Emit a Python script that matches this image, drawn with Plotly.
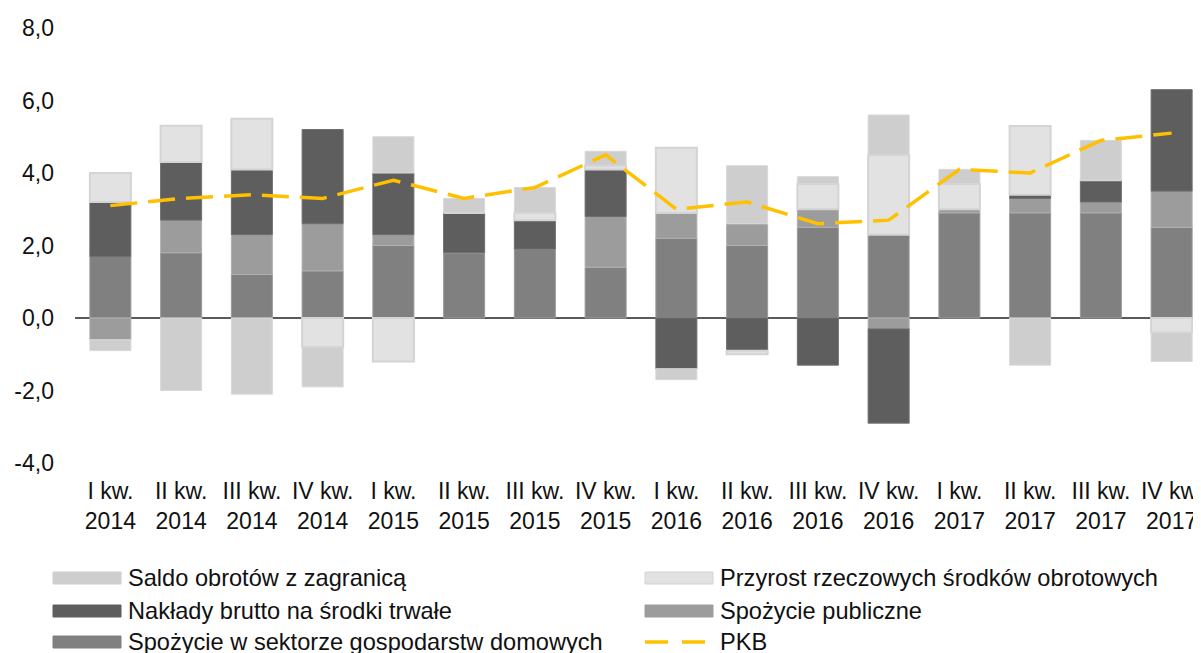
import plotly.graph_objects as go

categories = ["I kw.<br>2014", "II kw.<br>2014", "III kw.<br>2014", "IV kw.<br>2014",
              "I kw.<br>2015", "II kw.<br>2015", "III kw.<br>2015", "IV kw.<br>2015",
              "I kw.<br>2016", "II kw.<br>2016", "III kw.<br>2016", "IV kw.<br>2016",
              "I kw.<br>2017", "II kw.<br>2017", "III kw.<br>2017", "IV kw.<br>2017"]

households = [1.7, 1.8, 1.2, 1.3, 2.0, 1.8, 1.9, 1.4, 2.2, 2.0, 2.5, 2.3, 2.9, 2.9, 2.9, 2.5]
public = [-0.6, 0.9, 1.1, 1.3, 0.3, 0.0, 0.0, 1.4, 0.7, 0.6, 0.5, -0.3, 0.1, 0.4, 0.3, 1.0]
investment = [1.5, 1.6, 1.8, 2.6, 1.7, 1.1, 0.8, 1.3, -1.4, -0.9, -1.3, -2.6, 0.0, 0.1, 0.6, 2.8]
inventories = [0.8, 1.0, 1.4, -0.8, -1.2, 0.0, 0.2, 0.1, 1.8, -0.1, 0.7, 2.2, 0.7, 1.9, 0.0, -0.4]
net_exports = [-0.3, -2.0, -2.1, -1.1, 1.0, 0.4, 0.7, 0.4, -0.3, 1.6, 0.2, 1.1, 0.4, -1.3, 1.1, -0.8]
pkb = [3.1, 3.3, 3.4, 3.3, 3.8, 3.3, 3.6, 4.5, 3.0, 3.2, 2.6, 2.7, 4.1, 4.0, 4.9, 5.1]

names = {
    "households": "Spożycie w sektorze gospodarstw domowych",
    "public": "Spożycie publiczne",
    "investment": "Nakłady brutto na środki trwałe",
    "inventories": "Przyrost rzeczowych środków obrotowych",
    "net_exports": "Saldo obrotów z zagranicą",
    "pkb": "PKB",
}
y_ticks = [-4, -2, 0, 2, 4, 6, 8]
y_ticktext = [("%.1f" % v).replace(".", ",") for v in y_ticks]

FONT = "Liberation Sans, Arial, sans-serif"
FS = 23
FS_LEG = 23.6
styles = {
    "households": ("#808080", "#9a9a9a", 1),
    "public": ("#9c9c9c", "#b0b0b0", 1),
    "investment": ("#5e5e5e", "#6e6e6e", 1),
    "inventories": ("#e2e2e2", "#d4d4d4", 2),
    "net_exports": ("#cecece", "#d8d8d8", 1),
}
data = {"households": households, "public": public, "investment": investment,
        "inventories": inventories, "net_exports": net_exports}

fig = go.Figure()
for key in ["households", "public", "investment", "inventories", "net_exports"]:
    fc, lc, lw = styles[key]
    fig.add_trace(go.Bar(x=list(range(len(categories))), y=data[key], name=names[key],
                         marker=dict(color=fc, line=dict(color=lc, width=lw)),
                         showlegend=False))
fig.add_trace(go.Scatter(x=list(range(len(categories))), y=pkb, name=names["pkb"], mode="lines",
                         line=dict(color="#FFC000", width=3.5, dash="27px,11px"),
                         showlegend=False))

# page body has an 8px margin; figure is sized and laid out to compensate
OFF = 8
W, H = 1201 - OFF, 653 - OFF
L, T = 75 - OFF, 28 - OFF
PLOT_BOTTOM = 463 - OFF
B = H - PLOT_BOTTOM
pw = W - L
ph = PLOT_BOTTOM - T
cat_w = 70.75

def px(x):
    return (x - OFF - L) / pw

def py(y):
    return (PLOT_BOTTOM - (y - OFF)) / ph

# custom legend (page pixel positions)
legend_items = [
    ("net_exports", 53, 578), ("inventories", 645, 578),
    ("investment", 53, 611), ("public", 645, 611),
    ("households", 53, 642), ("pkb", 645, 642),
]
shapes = []
annotations = []
for key, x0, yc in legend_items:
    if key == "pkb":
        shapes.append(dict(type="line", xref="paper", yref="paper",
                           x0=px(x0), x1=px(x0 + 64), y0=py(yc), y1=py(yc),
                           line=dict(color="#FFC000", width=3.5, dash="23px,14px")))
    else:
        fc, lc, lw = styles[key]
        shapes.append(dict(type="rect", xref="paper", yref="paper",
                           x0=px(x0), x1=px(x0 + 68), y0=py(yc - 6), y1=py(yc + 6),
                           fillcolor=fc, line=dict(color=lc if key == "inventories" else fc, width=1)))
    annotations.append(dict(text=names[key], xref="paper", yref="paper", x=px(x0 + 73), y=py(yc),
                            xanchor="left", yanchor="middle", showarrow=False,
                            font=dict(family=FONT, size=FS_LEG, color="#111111")))

fig.update_layout(
    width=W, height=H,
    margin=dict(l=L, r=0, t=T, b=B, pad=0),
    paper_bgcolor="white", plot_bgcolor="white",
    barmode="relative", bargap=0.42,
    font=dict(family=FONT, size=FS, color="#111111"),
    showlegend=False,
    shapes=shapes, annotations=annotations,
    xaxis=dict(range=[-0.5, -0.5 + pw / cat_w], tickmode="array",
               tickvals=list(range(len(categories))), ticktext=categories,
               showgrid=False, showline=False, zeroline=False, ticks="",
               ticklabelstandoff=12, ticklabeloverflow="allow",
               tickfont=dict(family=FONT, size=FS, color="#111111")),
    yaxis=dict(range=[-4, 8], tickmode="array", tickvals=y_ticks, ticktext=y_ticktext,
               showgrid=False, showline=False, zeroline=True, zerolinecolor="#5a5a5a",
               zerolinewidth=1.5, ticks="", ticklabelstandoff=20,
               tickfont=dict(family=FONT, size=FS, color="#111111")),
)

fig.write_html("out.html")
